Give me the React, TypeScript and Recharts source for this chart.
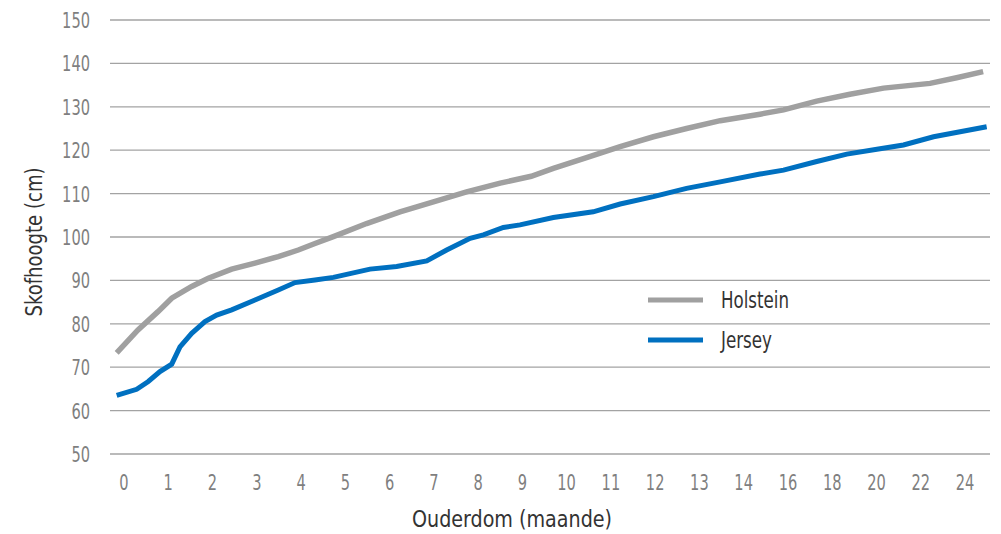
import React from 'react';
import { LineChart, Line, XAxis, YAxis, CartesianGrid, Legend } from 'recharts';

// Category tick labels (age in months)
const ageLabels = ['0', '1', '2', '3', '4', '5', '6', '7', '8', '9', '10', '11', '12', '13', '14', '16', '18', '20', '22', '24'];
const categoryPositions = ageLabels.map((_, i) => i);
const yTicks = [50, 60, 70, 80, 90, 100, 110, 120, 130, 140, 150];

// Positions along the category axis (in category units) and values
const holsteinPos = [-0.165, 0.316, 0.768, 1.078, 1.53, 1.905, 2.433, 2.96, 3.486, 3.938, 4.315, 4.73, 5.48, 6.236, 6.99, 7.74, 8.5, 9.2, 9.7, 10.45, 11.21, 11.96, 12.71, 13.47, 14.37, 14.9, 15.65, 16.4, 17.16, 18.21, 18.81, 19.41];
const holsteinVal = [73.3, 78.6, 82.8, 85.9, 88.6, 90.5, 92.6, 94.0, 95.5, 97.0, 98.5, 100.1, 103.1, 105.8, 108.1, 110.4, 112.4, 114.0, 115.8, 118.3, 120.8, 123.1, 125.0, 126.8, 128.3, 129.3, 131.3, 132.9, 134.3, 135.4, 136.7, 138.1];

const jerseyPos = [-0.165, 0.287, 0.549, 0.813, 1.078, 1.265, 1.53, 1.83, 2.094, 2.433, 2.96, 3.486, 3.864, 4.315, 4.73, 5.558, 6.16, 6.84, 7.29, 7.82, 8.12, 8.57, 8.947, 9.7, 10.6, 11.21, 11.96, 12.71, 13.47, 14.37, 14.9, 15.65, 16.33, 17.01, 17.61, 18.29, 19.49];
const jerseyVal = [63.5, 64.9, 66.7, 69.0, 70.7, 74.7, 77.8, 80.5, 82.0, 83.2, 85.5, 87.8, 89.5, 90.1, 90.7, 92.6, 93.2, 94.5, 97.0, 99.7, 100.5, 102.2, 102.8, 104.5, 105.8, 107.6, 109.3, 111.2, 112.7, 114.5, 115.4, 117.4, 119.1, 120.2, 121.2, 123.1, 125.4];

const holsteinData = holsteinPos.map((p, i) => ({ pos: p, value: holsteinVal[i] }));
const jerseyData = jerseyPos.map((p, i) => ({ pos: p, value: jerseyVal[i] }));

const FONT = '"DejaVu Sans Condensed", "Liberation Sans Narrow", sans-serif';
const DIGIT_W = 9.3;
const TICK_COLOR = '#7f7f7f';
const TITLE_COLOR = '#333333';

const XTick = (props: any) => {
  const { x, y, payload } = props;
  const label = ageLabels[payload.value] ?? '';
  return (
    <text
      x={x}
      y={y}
      dy={15}
      textAnchor="middle"
      fill={TICK_COLOR}
      fontSize={21}
      fontFamily={FONT}
      textLength={label.length * DIGIT_W}
      lengthAdjust="spacingAndGlyphs"
    >
      {label}
    </text>
  );
};

const YTick = (props: any) => {
  const { x, y, payload } = props;
  const label = String(payload.value);
  return (
    <text
      x={x}
      y={y}
      dy={8}
      textAnchor="end"
      fill={TICK_COLOR}
      fontSize={21}
      fontFamily={FONT}
      textLength={label.length * DIGIT_W}
      lengthAdjust="spacingAndGlyphs"
    >
      {label}
    </text>
  );
};

const legendTextLen: Record<string, number> = { Holstein: 68, Jersey: 51 };

const renderLegend = (props: any) => {
  const { payload } = props;
  const items = payload || [];
  return (
    <svg width={200} height={items.length * 40} style={{ display: 'block' }}>
      {items.map((entry: any, i: number) => (
        <g key={entry.value}>
          <line x1={0} x2={55} y1={20 + i * 40} y2={20 + i * 40} stroke={entry.color} strokeWidth={5} />
          <text
            x={73}
            y={20 + i * 40}
            dy={8}
            fill={TITLE_COLOR}
            fontSize={23}
            fontFamily={FONT}
            textLength={legendTextLen[entry.value]}
            lengthAdjust="spacingAndGlyphs"
          >
            {entry.value}
          </text>
        </g>
      ))}
    </svg>
  );
};

export default function App() {
  return (
    <div style={{ position: 'absolute', left: 0, top: 0, width: 1001, height: 534, background: '#ffffff' }}>
      <LineChart width={1001} height={534} margin={{ top: 20, right: 11, bottom: 40, left: 0 }}>
        <CartesianGrid horizontal vertical={false} stroke="#a3a3a3" strokeWidth={1.3} />
        <XAxis
          dataKey="pos"
          type="number"
          domain={[-0.316, 19.565]}
          allowDataOverflow
          ticks={categoryPositions}
          interval={0}
          axisLine={false}
          tickLine={false}
          tickSize={0}
          tickMargin={21}
          height={40}
          tick={<XTick />}
          label={{
            content: () => (
              <text
                x={512}
                y={527}
                textAnchor="middle"
                fill={TITLE_COLOR}
                fontSize={23}
                fontFamily={FONT}
                textLength={200}
                lengthAdjust="spacingAndGlyphs"
              >
                Ouderdom (maande)
              </text>
            ),
          }}
        />
        <YAxis
          type="number"
          domain={[50, 150]}
          ticks={yTicks}
          interval={0}
          axisLine={false}
          tickLine={false}
          tickSize={0}
          tickMargin={20}
          width={110}
          tick={<YTick />}
          label={{
            content: () => (
              <text
                x={0}
                y={0}
                transform="translate(34, 242) rotate(-90)"
                dy={8}
                textAnchor="middle"
                fill={TITLE_COLOR}
                fontSize={23}
                fontFamily={FONT}
                textLength={149}
                lengthAdjust="spacingAndGlyphs"
              >
                Skofhoogte (cm)
              </text>
            ),
          }}
        />
        <Legend
          layout="horizontal"
          verticalAlign="middle"
          align="center"
          wrapperStyle={{ left: 648, top: 280, width: 200 }}
          content={renderLegend}
        />
        <Line
          data={holsteinData}
          dataKey="value"
          name="Holstein"
          stroke="#a0a0a0"
          strokeWidth={5.5}
          dot={false}
          type="linear"
          isAnimationActive={false}
        />
        <Line
          data={jerseyData}
          dataKey="value"
          name="Jersey"
          stroke="#0070c0"
          strokeWidth={5}
          dot={false}
          type="linear"
          isAnimationActive={false}
        />
      </LineChart>
    </div>
  );
}
